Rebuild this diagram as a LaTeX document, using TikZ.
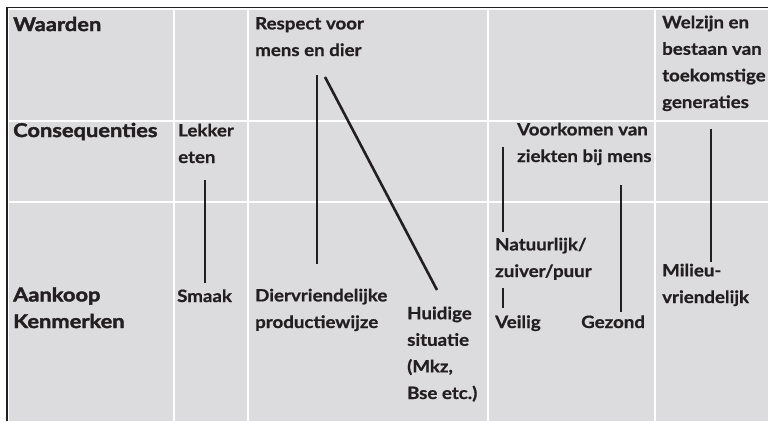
\documentclass[tikz,border=0pt]{standalone}
\usepackage{fontspec}
\setmainfont{Lato}[BoldFeatures={FakeStretch=1.1,FakeBold=0.8}]
\newfontfamily\headfont{Lato}[BoldFeatures={FakeStretch=1.15,FakeBold=2}]
\definecolor{cellgray}{HTML}{DCDCDE}
\definecolor{ink}{HTML}{231F20}
\tikzset{
  lbl/.style={anchor=base west, inner sep=0pt, align=left, text=ink,
    font=\fontsize{17}{26.6}\selectfont\bfseries},
  head/.style={anchor=base west, inner sep=0pt, align=left, text=ink,
    font=\fontsize{19}{26.6}\selectfont\headfont\bfseries},
  link/.style={draw=ink, line width=2.6pt},
  grid/.style={draw=white, line width=1.2pt}
}
\begin{document}
\begin{tikzpicture}[x=1pt,y=-1pt]
\useasboundingbox (0,0) rectangle (768,421);
\fill[white] (0,0) rectangle (768,421);
% background cells
\fill[cellgray] (9,10) rectangle (768,421);
% frame
\draw[ink, line width=1.5pt] (7,421) -- (7,7.5) -- (768,7.5);
% grid lines
\foreach \gx in {174,248,488,655} \draw[grid] (\gx,10) -- (\gx,421);
\draw[grid] (9,121) -- (768,121);
\draw[grid] (9,202) -- (768,202);
% row headings (anchored at the baseline of the last line)
\node[head] (waarden) at (13,31) {Waarden};
\node[head] (cons) at (13,137) {Consequenties};
\node[head] (aank) at (13,328) {Aankoop\\Kenmerken};
% column 2
\node[lbl] (lekker) at (178,163) {Lekker\\eten};
\node[lbl] (smaak) at (177,302) {Smaak};
% column 3
\node[lbl] (respect) at (255,56) {Respect voor\\mens en dier};
\node[lbl] (dier) at (255,328) {Diervriendelijke\\productiewijze};
\node[lbl] (huidig) at (407,399) {Huidige\\situatie\\(Mkz,\\Bse etc.)};
% column 4
\node[lbl] (voork) at (517,162) {Voorkomen van\\ziekten bij mens};
\node[lbl] (natuur) at (495,277) {Natuurlijk/\\zuiver/puur};
\node[lbl] (veilig) at (495,328) {Veilig};
\node[lbl] (gezond) at (581,328) {Gezond};
% column 5
\node[lbl] (welzijn) at (662,108) {Welzijn en\\bestaan van\\toekomstige\\generaties};
\node[lbl] (milieu) at (662,303) {Milieu-\\vriendelijk};
% connector end points
\coordinate (a1) at (205,180);  \coordinate (a2) at (205,283);
\coordinate (b1) at (317,75);   \coordinate (b2) at (317,264);
\coordinate (c1) at (325,77);   \coordinate (c2) at (437,290);
\coordinate (d1) at (503,147);  \coordinate (d2) at (503,232);
\coordinate (e1) at (503,288);  \coordinate (e2) at (503,308);
\coordinate (f1) at (621,185);  \coordinate (f2) at (621,312);
\coordinate (g1) at (711,129);  \coordinate (g2) at (711,262);
\draw[link] (a1) -- (a2);
\draw[link] (b1) -- (b2);
\draw[link] (c1) -- (c2);
\draw[link] (d1) -- (d2);
\draw[link] (e1) -- (e2);
\draw[link] (f1) -- (f2);
\draw[link] (g1) -- (g2);
\end{tikzpicture}
\end{document}
